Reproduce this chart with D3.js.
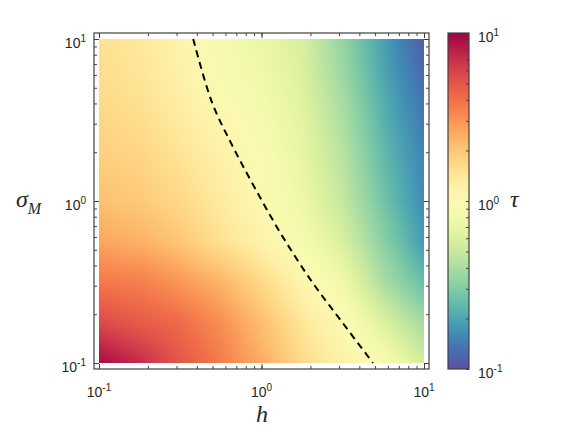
<!DOCTYPE html>
<html lang="en">
<head>
<meta charset="UTF-8">
<title>tau over h and sigma_M</title>
<script src="https://d3js.org/d3.v7.min.js"></script>
<style>
    body, html {
        margin: 0;
        padding: 0;
        background: #fff;
        overflow: hidden;
    }
    svg { display: block; }
    .tick-label {
        font-family: "Liberation Sans", Arial, sans-serif;
        font-size: 14px;
        fill: #262626;
    }
    .math {
        font-family: "Liberation Serif", "DejaVu Serif", serif;
        font-style: italic;
        fill: #262626;
    }
</style>
</head>
<body>
<svg id="chart" width="575" height="432"></svg>
<script>
    // tau on a log-spaced grid
    const hGrid = [0.1, 0.178, 0.316, 0.562, 1, 1.78, 3.16, 5.62, 10];
    const sigmaGrid = [10, 5.62, 3.16, 1.78, 1, 0.562, 0.316, 0.178, 0.1]; // rows, top to bottom
    const tauGrid = [
        [1.51, 1.38, 1.15, 0.87, 0.72, 0.58, 0.34, 0.19, 0.112],
        [1.58, 1.45, 1.20, 0.93, 0.78, 0.60, 0.37, 0.204, 0.126],
        [1.70, 1.58, 1.32, 1.07, 0.85, 0.65, 0.41, 0.224, 0.141],
        [1.86, 1.74, 1.48, 1.20, 0.95, 0.69, 0.45, 0.245, 0.155],
        [2.09, 1.95, 1.66, 1.32, 1.00, 0.74, 0.49, 0.27, 0.162],
        [2.63, 2.40, 2.00, 1.51, 1.17, 0.85, 0.58, 0.32, 0.182],
        [3.72, 3.55, 2.95, 2.34, 1.66, 1.12, 0.76, 0.40, 0.25],
        [5.62, 4.79, 4.17, 3.16, 2.14, 1.41, 1.00, 0.60, 0.38],
        [9.33, 7.24, 5.01, 3.63, 2.51, 1.66, 1.20, 0.89, 0.56]
    ];

    // tau = 1 line (dashed)
    const contourH = [0.38, 0.495, 0.658, 0.912, 1.33, 2.05, 3.13, 4.85];
    const contourSigma = [10, 4.08, 2.22, 1.20, 0.617, 0.316, 0.179, 0.1];

    const majorTicks = [0.1, 1, 10];
    const majorExp = ["-1", "0", "1"];

    const svg = d3.select("#chart");

    const box = { left: 94, right: 429, top: 33, bottom: 369 };
    const x = d3.scaleLog().domain([0.1, 10]).range([99, 424]);
    const y = d3.scaleLog().domain([0.1, 10]).range([363, 39]);
    const color = d3.scaleSequentialLog(t => d3.interpolateSpectral(1 - t)).domain([0.1, 10]);

    // grid index scales
    const gx = d3.scaleLog().domain([hGrid[0], hGrid[hGrid.length - 1]]).range([0, hGrid.length - 1]).clamp(true);
    const gy = d3.scaleLog().domain([sigmaGrid[0], sigmaGrid[sigmaGrid.length - 1]]).range([0, sigmaGrid.length - 1]).clamp(true);
    const logTau = tauGrid.map(r => r.map(v => Math.log10(v)));

    function field(h, s) {
        const fx = gx(h), fy = gy(s);
        const i = Math.min(Math.floor(fx), hGrid.length - 2), j = Math.min(Math.floor(fy), sigmaGrid.length - 2);
        const tx = fx - i, ty = fy - j;
        const a = logTau[j][i] * (1 - tx) + logTau[j][i + 1] * tx;
        const b = logTau[j + 1][i] * (1 - tx) + logTau[j + 1][i + 1] * tx;
        return Math.pow(10, a * (1 - ty) + b * ty);
    }

    // heatmap image
    const W = x.range()[1] - x.range()[0], H = y.range()[0] - y.range()[1];
    const canvas = document.createElement("canvas");
    canvas.width = W;
    canvas.height = H;
    const ctx = canvas.getContext("2d");
    const img = ctx.createImageData(W, H);
    for (let r = 0; r < H; r++) {
        const s = y.invert(y.range()[1] + r + 0.5);
        for (let c = 0; c < W; c++) {
            const h = x.invert(x.range()[0] + c + 0.5);
            const col = d3.rgb(color(field(h, s)));
            const k = (r * W + c) * 4;
            img.data[k] = col.r;
            img.data[k + 1] = col.g;
            img.data[k + 2] = col.b;
            img.data[k + 3] = 255;
        }
    }
    ctx.putImageData(img, 0, 0);

    svg.append("image")
        .attr("x", x.range()[0])
        .attr("y", y.range()[1])
        .attr("width", W)
        .attr("height", H)
        .attr("href", canvas.toDataURL());

    // dashed tau = 1 line
    const line = d3.line()
        .x(d => x(d[0]))
        .y(d => y(d[1]))
        .curve(d3.curveCatmullRom);

    svg.append("path")
        .datum(contourH.map((h, i) => [h, contourSigma[i]]))
        .attr("d", line)
        .attr("fill", "none")
        .attr("stroke", "#000")
        .attr("stroke-width", 2)
        .attr("stroke-dasharray", "7,5");

    // axes box
    svg.append("rect")
        .attr("x", box.left)
        .attr("y", box.top)
        .attr("width", box.right - box.left)
        .attr("height", box.bottom - box.top)
        .attr("fill", "none")
        .attr("stroke", "#404040")
        .attr("stroke-width", 1.2);

    function ticks(axisFn, scale, tx, ty, size, values) {
        const g = svg.append("g")
            .attr("transform", `translate(${tx},${ty})`)
            .call(axisFn(scale).tickValues(values).tickSize(-size).tickFormat(""));
        g.select(".domain").remove();
        g.selectAll(".tick line").attr("stroke", "#404040");
    }

    const minor = x.ticks();
    ticks(d3.axisBottom, x, 0, box.bottom, 3, minor);
    ticks(d3.axisBottom, x, 0, box.bottom, 5, majorTicks);
    ticks(d3.axisTop, x, 0, box.top, 3, minor);
    ticks(d3.axisTop, x, 0, box.top, 5, majorTicks);
    ticks(d3.axisLeft, y, box.left, 0, 3, minor);
    ticks(d3.axisLeft, y, box.left, 0, 5, majorTicks);
    ticks(d3.axisRight, y, box.right, 0, 3, minor);
    ticks(d3.axisRight, y, box.right, 0, 5, majorTicks);

    function powLabel(sel) {
        sel.text("10")
            .append("tspan")
            .attr("dy", -6)
            .attr("font-size", "10px")
            .text((d, i) => majorExp[i]);
    }

    svg.selectAll(".xlab")
        .data(majorTicks)
        .enter()
        .append("text")
        .attr("class", "tick-label")
        .attr("x", d => x(d))
        .attr("y", 397)
        .attr("text-anchor", "middle")
        .call(powLabel);

    svg.selectAll(".ylab")
        .data(majorTicks)
        .enter()
        .append("text")
        .attr("class", "tick-label")
        .attr("x", 86)
        .attr("y", d => y(d) + 9)
        .attr("text-anchor", "end")
        .call(powLabel);

    // axis titles
    svg.append("text")
        .attr("class", "math")
        .attr("x", 262)
        .attr("y", 422)
        .attr("text-anchor", "middle")
        .attr("font-size", "24px")
        .text("h");

    const sigLab = svg.append("text")
        .attr("class", "math")
        .attr("x", 16)
        .attr("y", 207)
        .attr("font-size", "24px")
        .text("σ");
    sigLab.append("tspan")
        .attr("dy", 7)
        .attr("font-size", "16px")
        .text("M");

    // colorbar
    const cb = { left: 448, right: 469, top: 33, bottom: 369 };
    const cbY = d3.scaleLog().domain([0.1, 10]).range([cb.bottom, cb.top]);

    const grad = svg.append("defs")
        .append("linearGradient")
        .attr("id", "cbgrad")
        .attr("x1", 0).attr("y1", 1)
        .attr("x2", 0).attr("y2", 0);
    grad.selectAll("stop")
        .data(d3.range(0, 1.0001, 0.02))
        .enter()
        .append("stop")
        .attr("offset", d => d)
        .attr("stop-color", d => color(Math.pow(10, -1 + 2 * d)));

    svg.append("rect")
        .attr("x", cb.left)
        .attr("y", cb.top)
        .attr("width", cb.right - cb.left)
        .attr("height", cb.bottom - cb.top)
        .attr("fill", "url(#cbgrad)")
        .attr("stroke", "#404040")
        .attr("stroke-width", 1.2);

    ticks(d3.axisRight, cbY, cb.right, 0, 3, cbY.ticks());

    svg.selectAll(".cblab")
        .data(majorTicks)
        .enter()
        .append("text")
        .attr("class", "tick-label")
        .attr("x", 478)
        .attr("y", d => cbY(d) + 9)
        .call(powLabel);

    svg.append("text")
        .attr("class", "math")
        .attr("x", 510)
        .attr("y", 207)
        .attr("font-size", "24px")
        .text("τ");
</script>
</body>
</html>
